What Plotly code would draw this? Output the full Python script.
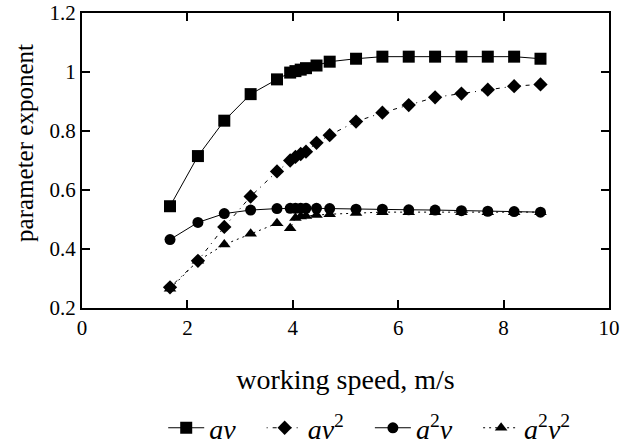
import plotly.graph_objects as go

speed = [1.67, 2.2, 2.7, 3.2, 3.7, 3.95, 4.05, 4.15, 4.25, 4.45, 4.7, 5.2, 5.7, 6.2, 6.7, 7.2, 7.7, 8.2, 8.7]
av = [0.545, 0.715, 0.835, 0.925, 0.975, 0.998, 1.003, 1.008, 1.013, 1.022, 1.035, 1.045, 1.052, 1.052, 1.052, 1.052, 1.052, 1.052, 1.045]
av2 = [0.27, 0.36, 0.475, 0.578, 0.663, 0.70, 0.712, 0.722, 0.73, 0.76, 0.786, 0.832, 0.862, 0.888, 0.914, 0.927, 0.94, 0.952, 0.958]
a2v = [0.432, 0.49, 0.52, 0.532, 0.537, 0.538, 0.538, 0.538, 0.538, 0.538, 0.537, 0.535, 0.535, 0.533, 0.532, 0.53, 0.528, 0.527, 0.525]
a2v2 = [0.265, 0.36, 0.415, 0.452, 0.487, 0.47, 0.505, 0.51, 0.512, 0.515, 0.518, 0.522, 0.525, 0.525, 0.525, 0.525, 0.525, 0.525, 0.525]

pad = "&nbsp;&nbsp;&nbsp;"
series = [
    ("<i>av</i>" + pad, av, "square", 12, "solid"),
    ("<i>av</i><sup>2</sup>" + pad, av2, "diamond", 11, "1px,5px,4px,5px"),
    ("<i>a</i><sup>2</sup><i>v</i>" + pad, a2v, "circle", 11, "solid"),
    ("<i>a</i><sup>2</sup><i>v</i><sup>2</sup>", a2v2, "triangle-up", 11, "2px,4px"),
]

fig = go.Figure()
for name, vals, sym, size, dash in series:
    fig.add_trace(go.Scatter(
        x=speed, y=vals, name=name, mode="lines+markers",
        line=dict(color="black", width=1, dash=dash),
        marker=dict(symbol=sym, size=size, color="black"),
    ))

axis_common = dict(
    showgrid=False, zeroline=False, showline=True, linecolor="black", linewidth=2,
    mirror="allticks", ticks="inside", ticklen=8, tickcolor="black", tickwidth=1.5,
    tickfont=dict(family="Liberation Serif", size=21, color="black"),
    automargin=False,
)

fig.update_layout(
    width=640, height=447,
    margin=dict(l=82, r=31, t=13, b=139, autoexpand=False),
    paper_bgcolor="white", plot_bgcolor="white",
    font=dict(family="Liberation Serif", color="black"),
    xaxis=dict(range=[0, 10], dtick=2,
               title=dict(text="working speed, m/s", font=dict(size=28), standoff=30), **axis_common),
    yaxis=dict(range=[0.2, 1.2], dtick=0.2, **axis_common),
    legend=dict(orientation="h", x=0.545, xanchor="center", y=-0.407, yanchor="middle",
                font=dict(family="Liberation Serif", size=28, color="black"),
                itemwidth=36, tracegroupgap=0, bgcolor="rgba(0,0,0,0)"),
    showlegend=True,
    annotations=[dict(text="parameter exponent", textangle=-90, xref="paper", yref="paper",
                      x=-0.108, y=0.56, xanchor="center", yanchor="middle", showarrow=False,
                      font=dict(family="Liberation Serif", size=25, color="black"))],
)

fig.write_html("out.html", config={"displayModeBar": False},
               post_script="document.body.style.margin='0';")
